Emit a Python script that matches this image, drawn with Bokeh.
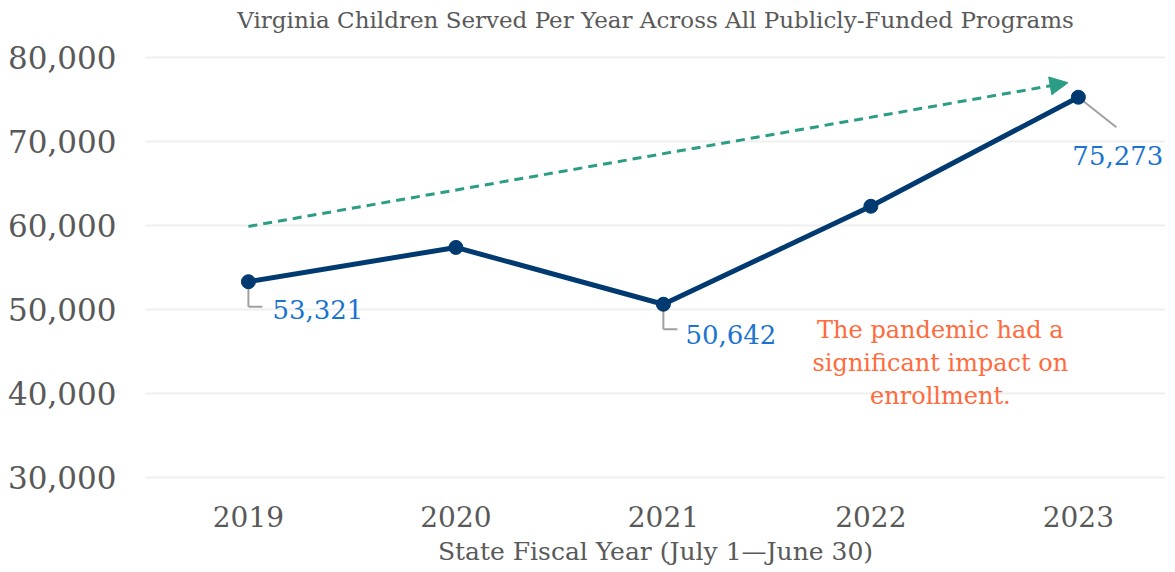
from bokeh.plotting import figure
from bokeh.models import (FixedTicker, NumeralTickFormatter, PrintfTickFormatter,
                          Range1d, Arrow, NormalHead, ColumnDataSource)
from bokeh.core.properties import value
from bokeh.embed import file_html
from bokeh.resources import INLINE

years = [2019, 2020, 2021, 2022, 2023]
children = [53321, 57400, 50642, 62300, 75273]
labelled_years = [2019, 2021, 2023]
labelled_values = [53321, 50642, 75273]
label_texts = ["53,321", "50,642", "75,273"]
trend_start = (2019, 59900)
trend_end = (2022.95, 77000)
y_ticks = [30000, 40000, 50000, 60000, 70000, 80000]
title_text = "Virginia Children Served Per Year Across All Publicly-Funded Programs"
x_title = "State Fiscal Year (July 1\u2014June 30)"
note = "The pandemic had a\nsignificant impact on\nenrollment."

FONT = "DejaVu Serif"
GREY = "#595959"
NAVY = "#003a70"
BLUE = "#1a73cf"
ORANGE = "#ff6b3d"
TEAL = "#2a9d84"

x0, x1 = 2018.504, 2023.42
y0, y1 = 28000, 82500
FW, FH = 1020, 458
pxx = FW / (x1 - x0)   # px per year
pxy = FH / (y1 - y0)   # px per unit

p = figure(width=1167, height=556, frame_width=FW, frame_height=FH,
           x_range=Range1d(x0, x1), y_range=Range1d(y0, y1),
           output_backend="svg", toolbar_location=None,
           min_border_left=145, min_border_right=2, min_border_top=27,
           min_border_bottom=69)
p.outline_line_color = None
p.background_fill_color = "white"

p.title.text = title_text
p.title.align = "center"
p.title.text_font = FONT
p.title.text_font_size = "23px"
p.title.text_font_style = "normal"
p.title.text_color = GREY
p.title.standoff = 8

p.xgrid.visible = False
p.ygrid.ticker = FixedTicker(ticks=y_ticks)
p.ygrid.grid_line_color = "#efefef"
p.ygrid.grid_line_width = 2

p.yaxis.ticker = FixedTicker(ticks=y_ticks)
p.yaxis.formatter = NumeralTickFormatter(format="0,0")
p.xaxis.ticker = FixedTicker(ticks=years)
p.xaxis.formatter = PrintfTickFormatter(format="%d")
for ax in (p.xaxis[0], p.yaxis[0]):
    ax.axis_line_color = None
    ax.major_tick_line_color = None
    ax.minor_tick_line_color = None
    ax.major_label_text_font = FONT
    ax.major_label_text_color = GREY
p.yaxis.major_label_text_font_size = "31px"
p.yaxis.major_label_standoff = 23
p.xaxis.major_label_text_font_size = "28px"
p.xaxis.major_label_standoff = 5
p.xaxis.axis_label = x_title
p.xaxis.axis_label_text_font = FONT
p.xaxis.axis_label_text_font_style = "normal"
p.xaxis.axis_label_text_font_size = "25px"
p.xaxis.axis_label_text_color = GREY
p.xaxis.axis_label_standoff = 7

# trend arrow
p.add_layout(Arrow(x_start=trend_start[0], y_start=trend_start[1],
                   x_end=trend_end[0], y_end=trend_end[1],
                   line_color=TEAL, line_width=3, line_dash="9 6",
                   end=NormalHead(size=18, fill_color=TEAL, line_color=TEAL)))

# leader lines (pixel offsets converted to data units)
lx0, ly0, lx1, ly1 = [], [], [], []
lx2, ly2 = [], []
for yr, v in zip(labelled_years[:2], labelled_values[:2]):
    lx0.append(yr); ly0.append(v)
    lx1.append(yr); ly1.append(v - 25 / pxy)
    lx2.append(yr + 14 / pxx); ly2.append(v - 25 / pxy)
p.segment(lx0, ly0, lx1, ly1, line_color="#a0a0a0", line_width=2)
p.segment(lx1, ly1, lx2, ly2, line_color="#a0a0a0", line_width=2)
yr, v = labelled_years[2], labelled_values[2]
p.segment([yr], [v], [yr + 38 / pxx], [v - 30 / pxy], line_color="#a0a0a0", line_width=2)

src = ColumnDataSource(dict(x=years, y=children))
p.line("x", "y", source=src, line_color=NAVY, line_width=5)
p.scatter("x", "y", source=src, size=14, fill_color=NAVY, line_color=NAVY)

lab = ColumnDataSource(dict(x=labelled_years, y=labelled_values, t=label_texts,
                            dx=[24, 22, -6], dy=[28, 30, 58]))
p.text("x", "y", text="t", source=lab, x_offset="dx", y_offset="dy",
       text_font=value(FONT), text_font_size="26px", text_color=BLUE,
       text_align="left", text_baseline="middle")

p.text([2022.335], [49300], text=[note], text_font=value(FONT), text_font_size="24px",
       text_color=ORANGE, text_align="center", text_baseline="top",
       text_line_height=1.19)

open("out.html", "w").write(file_html(p, INLINE))
